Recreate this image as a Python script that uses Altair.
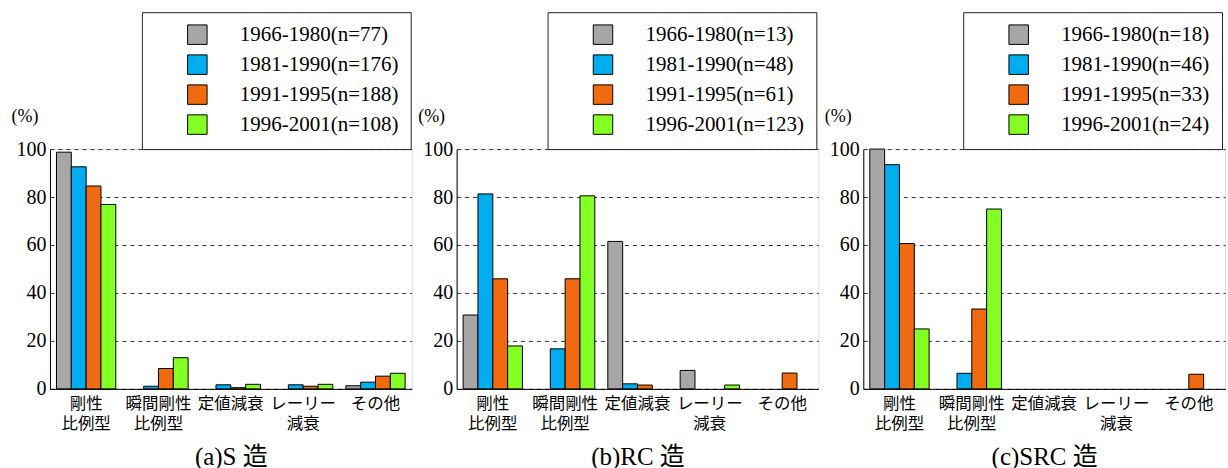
import altair as alt
import pandas as pd

# Damping types (x categories); "\n" splits a label over two lines
categories = ["剛性\n比例型", "瞬間剛性\n比例型", "定値減衰", "レーリー\n減衰", "その他"]
periods = ["1966-1980", "1981-1990", "1991-1995", "1996-2001"]
colors = ["#A6A6A6", "#00AEEF", "#F26A10", "#84FF24"]

# (a) S structures: share (%) of each damping type, per period
s_n = [77, 176, 188, 108]
s_1966 = [98.7, 0.0, 0.0, 0.0, 1.3]
s_1981 = [92.6, 1.1, 1.7, 1.7, 2.8]
s_1991 = [84.6, 8.5, 0.5, 1.1, 5.3]
s_1996 = [76.9, 13.0, 1.9, 1.9, 6.5]

# (b) RC structures
rc_n = [13, 48, 61, 123]
rc_1966 = [30.8, 0.0, 61.5, 7.7, 0.0]
rc_1981 = [81.3, 16.7, 2.1, 0.0, 0.0]
rc_1991 = [45.9, 45.9, 1.6, 0.0, 6.6]
rc_1996 = [17.9, 80.5, 0.0, 1.6, 0.0]

# (c) SRC structures
src_n = [18, 46, 33, 24]
src_1966 = [100.0, 0.0, 0.0, 0.0, 0.0]
src_1981 = [93.5, 6.5, 0.0, 0.0, 0.0]
src_1991 = [60.6, 33.3, 0.0, 0.0, 6.1]
src_1996 = [25.0, 75.0, 0.0, 0.0, 0.0]

SERIF = "Liberation Serif"
GOTHIC = "Noto Sans CJK JP"


def panel(title, counts, series, legend_x):
    labels = [f"{p}(n={n})" for p, n in zip(periods, counts)]
    rows = []
    for p, lab, vals in zip(periods, labels, series):
        for c, v in zip(categories, vals):
            rows.append({"category": c, "period": p, "series": lab, "value": v})
    df = pd.DataFrame(rows)

    return (
        alt.Chart(df)
        .transform_filter("datum.value > 0")
        .mark_bar(stroke="black", strokeWidth=1)
        .encode(
            x=alt.X(
                "category:N",
                sort=categories,
                scale=alt.Scale(domain=categories, paddingInner=0.18, paddingOuter=0.09),
                axis=alt.Axis(
                    title=title,
                    titleFont=f"{SERIF}, {GOTHIC}",
                    titleFontSize=25,
                    titleFontWeight="normal",
                    titleColor="black",
                    titlePadding=12,
                    labelAngle=0,
                    labelExpr="split(datum.label, '\\n')",
                    labelFont=GOTHIC,
                    labelFontSize=16.5,
                    labelLineHeight=20,
                    labelPadding=7,
                    labelBaseline="top",
                    labelColor="black",
                    labelOverlap=False,
                    labelLimit=0,
                    ticks=False,
                    domainColor="black",
                    grid=False,
                ),
            ),
            xOffset=alt.XOffset("period:N", sort=periods,
                                scale=alt.Scale(domain=periods, paddingInner=0)),
            y=alt.Y(
                "value:Q",
                scale=alt.Scale(domain=[0, 100], nice=False),
                axis=alt.Axis(
                    title="(%)",
                    values=[0, 20, 40, 60, 80, 100],
                    grid=True,
                    gridDash=[4, 4],
                    gridColor="#333333",
                    ticks=False,
                    labelFont=SERIF,
                    labelFontSize=20,
                    labelPadding=4,
                    labelColor="black",
                    domainColor="black",
                    titleAngle=0,
                    titleAlign="left",
                    titleBaseline="middle",
                    titleX=-39,
                    titleY=-33,
                    titleFont=SERIF,
                    titleFontSize=18,
                    titleFontWeight="normal",
                    titleColor="black",
                ),
            ),
            color=alt.Color(
                "series:N",
                sort=labels,
                scale=alt.Scale(domain=labels, range=colors),
                legend=alt.Legend(
                    title=None,
                    orient="none",
                    legendX=legend_x,
                    legendY=-137,
                    strokeColor="#222222",
                    fillColor="white",
                    padding=12,
                    symbolType="square",
                    symbolSize=380,
                    symbolStrokeColor="black",
                    symbolStrokeWidth=1,
                    symbolOpacity=1,
                    symbolOffset=33,
                    labelOffset=32,
                    labelFont=SERIF,
                    labelFontSize=21,
                    labelColor="black",
                    labelLimit=0,
                    rowPadding=5,
                ),
            ),
        )
        .properties(width=362, height=240)
    )


chart_a = panel("(a)S 造", s_n, [s_1966, s_1981, s_1991, s_1996], 92)
chart_b = panel("(b)RC 造", rc_n, [rc_1966, rc_1981, rc_1991, rc_1996], 91)
chart_c = panel("(c)SRC 造", src_n, [src_1966, src_1981, src_1991, src_1996], 100)

chart = (
    alt.hconcat(chart_a, chart_b, chart_c, spacing=45, bounds="flush")
    .resolve_scale(color="independent")
    .resolve_legend(color="independent")
    .properties(padding={"left": 10, "top": 11, "right": 2, "bottom": 0})
    .configure_view(stroke="black", strokeWidth=1)
    .configure(background="white")
)

chart.save("out.html", embed_options={"renderer": "svg", "actions": False})
